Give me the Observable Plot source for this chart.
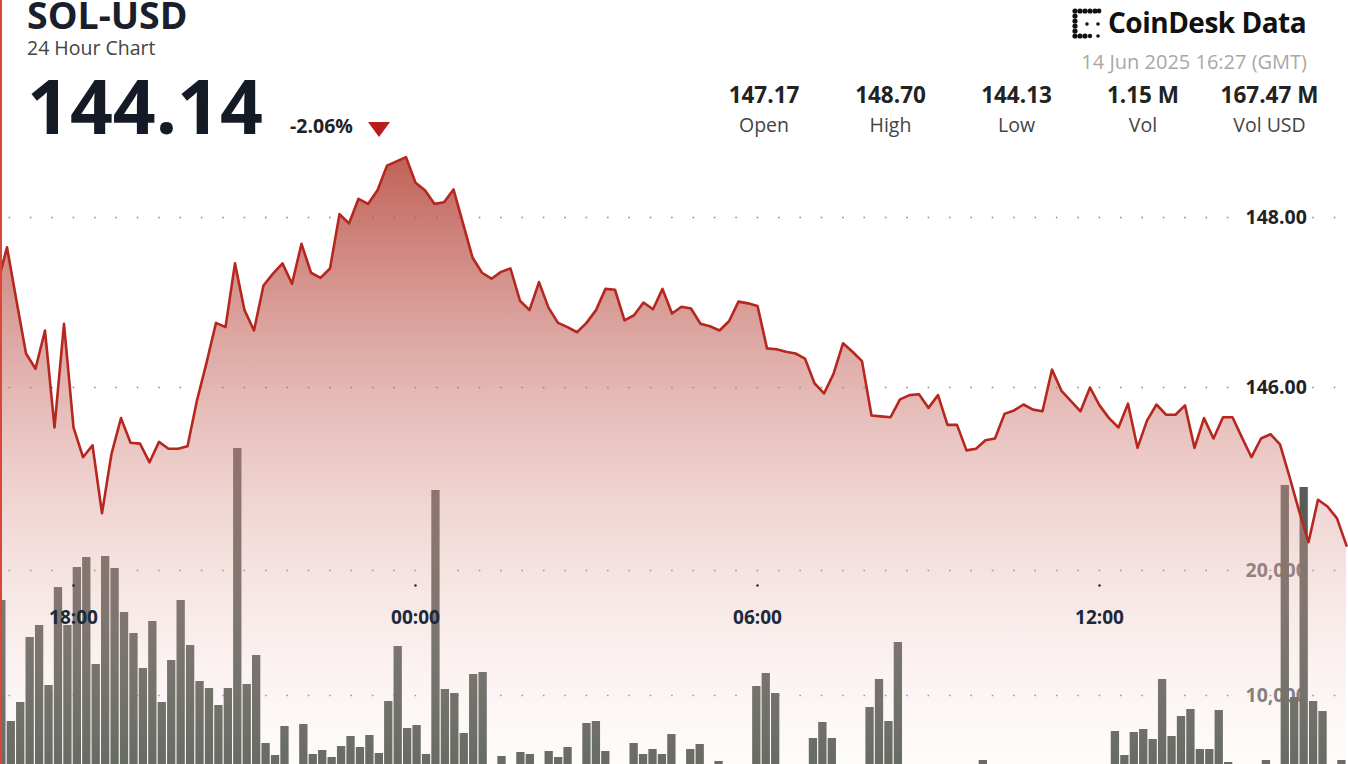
<!DOCTYPE html>
<html><head><meta charset="utf-8">
<script src="https://cdn.jsdelivr.net/npm/d3@7"></script>
<script src="https://cdn.jsdelivr.net/npm/@observablehq/plot@0.6"></script>
<style>
html,body{margin:0;padding:0;overflow:hidden;background:#fff;width:1348px;height:764px;}
#page{position:relative;width:1348px;height:764px;overflow:hidden;font-family:"Open Sans",sans-serif;}
#header{position:absolute;left:0;top:0;overflow:visible;}
.chart{position:absolute;left:0;top:145px;}
#border{position:absolute;left:0;top:0;width:2px;height:764px;background:#d9473a;}
</style></head>
<body><div id="page">
<svg id="header" width="1348" height="170" font-family="Open Sans, sans-serif">
  <text x="27" y="29" font-size="37.5" font-weight="700" fill="#1a1f2b">SOL-USD</text>
  <text x="27" y="55" font-size="19.5" fill="#444">24 Hour Chart</text>
  <text x="27" y="133.5" font-size="75" font-weight="700" fill="#141a26">144.14</text>
  <text x="290" y="133" font-size="19.5" font-weight="700" fill="#222">-2.06%</text>
  <polygon points="368,122 390,122 379,137" fill="#b91c1c"/>
  <g fill="#111">
    <circle cx="1075" cy="11" r="2.6"/><circle cx="1075" cy="16" r="2.6"/><circle cx="1075" cy="21" r="2.6"/>
    <circle cx="1075" cy="26" r="2.6"/><circle cx="1075" cy="31" r="2.6"/><circle cx="1075" cy="36" r="2.6"/>
    <circle cx="1080" cy="11" r="2.6"/><circle cx="1085" cy="11" r="2.6"/><circle cx="1090" cy="11" r="2.6"/><circle cx="1095" cy="11" r="2.6"/><circle cx="1099" cy="11" r="2.4"/>
    <circle cx="1080" cy="36" r="2.6"/><circle cx="1085" cy="36" r="2.6"/><circle cx="1090" cy="36" r="2.2"/>
    <circle cx="1087" cy="24" r="1.8"/><circle cx="1098" cy="24" r="1.8"/><circle cx="1098" cy="36" r="1.8"/>
  </g>
  <text x="1108" y="33" font-size="28" font-weight="700" fill="#111" letter-spacing="-0.5">CoinDesk Data</text>
  <text x="1307" y="69" font-size="20" fill="#a8a8a8" text-anchor="end">14 Jun 2025 16:27 (GMT)</text>
  <g id="stats" font-size="22.5" font-weight="700" fill="#222" text-anchor="middle"></g>
  <g id="statLabels" font-size="19.5" fill="#444" text-anchor="middle"></g>
</svg>
<div id="vol" class="chart"></div>
<div id="price" class="chart"></div>
<div id="border"></div>
</div>
<script>
// ---- data ----
const statValues = ["147.17", "148.70", "144.13", "1.15 M", "167.47 M"];
const statNames = ["Open", "High", "Low", "Vol", "Vol USD"];

// SOL-USD price, one point every 10 minutes from 13 Jun 16:40 UTC
const prices = [147.22,147.65,147.02,146.40,146.22,146.67,145.53,146.75,145.53,145.18,
145.32,144.52,145.22,145.64,145.35,145.34,145.12,145.36,145.28,145.28,
145.31,145.85,146.29,146.76,146.71,147.46,146.91,146.67,147.20,147.34,
147.46,147.22,147.69,147.35,147.29,147.40,148.04,147.93,148.22,148.16,
148.32,148.61,148.66,148.71,148.41,148.32,148.16,148.18,148.33,147.93,
147.53,147.35,147.28,147.36,147.40,147.02,146.91,147.24,146.94,146.76,
146.71,146.65,146.76,146.91,147.16,147.15,146.79,146.85,147.00,146.92,
147.16,146.87,146.95,146.93,146.75,146.72,146.67,146.78,147.01,146.99,
146.96,146.46,146.45,146.42,146.40,146.34,146.05,145.93,146.16,146.52,
146.42,146.31,145.67,145.66,145.65,145.86,145.91,145.92,145.76,145.91,
145.56,145.56,145.26,145.28,145.38,145.40,145.69,145.73,145.80,145.74,
145.72,146.21,145.96,145.84,145.72,146.00,145.79,145.64,145.53,145.81,
145.29,145.61,145.80,145.68,145.68,145.79,145.29,145.64,145.40,145.65,
145.65,145.41,145.18,145.40,145.45,145.33,144.95,144.55,144.18,144.68,
144.60,144.46,144.14];

// volume per 10-minute slot (144 slots)
const volumes = [17600,7920,9440,14640,15600,10800,18640,15600,20240,21040,
12480,21120,20160,16640,14960,12160,15920,9440,12800,17600,
14000,11120,10560,9200,10560,29760,10880,13200,6160,5200,
7520,3000,7680,5280,5600,5040,5920,6720,5840,6800,
5360,9520,13920,7360,7600,5280,26400,10480,10160,6960,
11680,11840,3200,5120,2800,5440,5280,3500,5520,5040,
5840,3000,7760,7920,5520,3400,2600,6160,5280,5680,
5280,6880,3000,5680,6080,3600,4720,2500,3000,2800,
10720,11760,10160,3200,2400,2900,6560,7840,6560,3000,
2600,3300,9040,11280,7920,14240,2800,3100,2500,3300,
2700,3000,2400,3200,4800,2900,2600,3100,2500,2800,
3000,2700,3300,2600,2900,3100,2800,3200,7120,5200,
7040,7280,6480,11280,6720,8320,8880,5680,5680,8800,
4640,3000,2800,3300,4800,3100,26800,9840,26640,9520,
8720,3500,4800,3000];

const priceTicks = [146, 148];
const volumeTicks = [10000, 20000];
const timeTicks = [Date.UTC(2025,5,13,18), Date.UTC(2025,5,14,0), Date.UTC(2025,5,14,6), Date.UTC(2025,5,14,12)].map(d => new Date(d));

// ---- header stats ----
const centers = [764, 890.5, 1016.5, 1143, 1269.5];
const ns = "http://www.w3.org/2000/svg";
statValues.forEach((v, i) => {
  const t = document.createElementNS(ns, "text");
  t.setAttribute("x", centers[i]); t.setAttribute("y", 103); t.textContent = v;
  document.getElementById("stats").appendChild(t);
  const l = document.createElementNS(ns, "text");
  l.setAttribute("x", centers[i]); l.setAttribute("y", 131.5); l.textContent = statNames[i];
  document.getElementById("statLabels").appendChild(l);
});

// ---- tables ----
const start = Date.UTC(2025,5,13,16,40);
const stepMs = 10 * 60 * 1000;
const priceData = prices.map((p, i) => ({time: new Date(start + i * stepMs), price: p}));
const volData = volumes.map((v, i) => ({slot: i, volume: v}));

const dotted = {stroke: "#8c8c8c", strokeWidth: 1.6, strokeDasharray: "1.6 19.775", strokeDashoffset: 12.9};

const volPlot = Plot.plot({
  width: 1348, height: 700, margin: 0,
  style: {background: "transparent", overflow: "visible", fontFamily: "Open Sans, sans-serif"},
  x: {type: "band", domain: d3.range(volumes.length), range: [-2.8, 1355], paddingInner: 0.12, paddingOuter: 0, axis: null},
  y: {domain: [0, 20000], range: [675, 425], axis: null},
  marks: [
    Plot.ruleY(volumeTicks, {y: d => d, ...dotted}),
    Plot.text(volumeTicks, {y: d => d, text: d => d3.format(",")(d), frameAnchor: "right", dx: -103, textAnchor: "start",
      lineAnchor: "middle", fill: "#6e6e6e", fontSize: 19.5, fontWeight: 700, stroke: "white", strokeWidth: 4, paintOrder: "stroke"}),
    Plot.barY(volData, {x: "slot", y: "volume", fill: "#555d55"})
  ]
});
document.getElementById("vol").appendChild(volPlot);

const pricePlot = Plot.plot({
  width: 1348, height: 700, margin: 0,
  style: {background: "transparent", overflow: "visible", fontFamily: "Open Sans, sans-serif"},
  x: {type: "utc", domain: [timeTicks[0], timeTicks[3]], range: [73, 1099], axis: null},
  y: {domain: [141, 149], range: [667, -13], axis: null},
  marks: [
    Plot.ruleY(priceTicks, {y: d => d, ...dotted}),
    Plot.areaY(priceData, {x: "time", y1: 141, y2: "price", fill: "url(#solGrad)", clip: true}),
    Plot.lineY(priceData, {x: "time", y: "price", stroke: "#b5271f", strokeWidth: 2.6, clip: true}),
    Plot.text(priceTicks, {y: d => d, text: d => d.toFixed(2), frameAnchor: "right", dx: -103, textAnchor: "start",
      lineAnchor: "middle", fill: "#1f2328", fontSize: 19.5, fontWeight: 700, stroke: "white", strokeWidth: 4, paintOrder: "stroke"}),
    Plot.dot(timeTicks, {x: d => d, frameAnchor: "top", dy: 440, r: 1.2, fill: "#222"}),
    Plot.text(timeTicks, {x: d => d, frameAnchor: "top", dy: 472, lineAnchor: "middle", text: d => d3.utcFormat("%H:%M")(d),
      fill: "#1b2a3a", fontSize: 19, fontWeight: 700})
  ]
});
const defs = document.createElementNS(ns, "defs");
defs.innerHTML = '<linearGradient id="solGrad" x1="0" y1="0" x2="0" y2="1">' +
  '<stop offset="0" stop-color="rgb(176,58,46)" stop-opacity="0.8"/>' +
  '<stop offset="1" stop-color="rgb(255,235,235)" stop-opacity="0.06"/></linearGradient>';
pricePlot.prepend(defs);
document.getElementById("price").appendChild(pricePlot);
</script>
</body></html>
